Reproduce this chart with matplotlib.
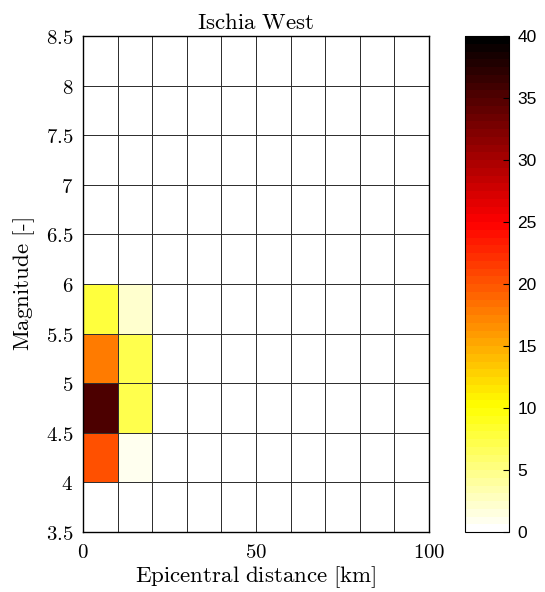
import numpy as np
import matplotlib
matplotlib.use("Agg")
import matplotlib.pyplot as plt
from matplotlib.colors import ListedColormap

plt.rcParams["mathtext.fontset"] = "cm"

# Bin edges
dist_edges = [0, 10, 20, 30, 40, 50, 60, 70, 80, 90, 100]
mag_edges = [3.5, 4.0, 4.5, 5.0, 5.5, 6.0, 6.5, 7.0, 7.5, 8.0, 8.5]

# Event counts per (magnitude bin, distance bin); rows from M 3.5 upwards
counts_0_10 = [0, 20, 35, 18, 8, 0, 0, 0, 0, 0]
counts_10_20 = [0, 1, 7, 7, 2, 0, 0, 0, 0, 0]

x_ticks = [0, 50, 100]
y_ticks = [3.5, 4, 4.5, 5, 5.5, 6, 6.5, 7, 7.5, 8, 8.5]
y_ticklabels = ["3.5", "4", "4.5", "5", "5.5", "6", "6.5", "7", "7.5", "8", "8.5"]
cbar_ticks = [0, 5, 10, 15, 20, 25, 30, 35, 40]

counts = np.zeros((len(mag_edges) - 1, len(dist_edges) - 1))
counts[:, 0] = counts_0_10
counts[:, 1] = counts_10_20


def matlab_hot(n=64):
    x = np.linspace(0, 1, n)
    r = np.clip(x / (3 / 8), 0, 1)
    g = np.clip((x - 3 / 8) / (3 / 8), 0, 1)
    b = np.clip((x - 3 / 4) / (1 / 4), 0, 1)
    return np.column_stack([r, g, b])


cmap = ListedColormap(matlab_hot(64)[::-1])

W, H = 545, 592
fig = plt.figure(figsize=(W / 100, H / 100), dpi=100)
ax = fig.add_axes([83 / W, 1 - 532 / H, (429 - 83) / W, (532 - 36) / H])
cax = fig.add_axes([465 / W, 1 - 532 / H, (509 - 465) / W, (532 - 36) / H])

mesh = ax.pcolormesh(dist_edges, mag_edges, counts, cmap=cmap, vmin=0, vmax=40,
                     edgecolor="#303030", linewidth=0.6)
ax.set_xlim(0, 100)
ax.set_ylim(3.5, 8.5)

ax.set_xticks(x_ticks)
ax.set_xticklabels([f"${t}$" for t in x_ticks])
ax.set_yticks(y_ticks)
ax.set_yticklabels([f"${t}$" for t in y_ticklabels])
ax.tick_params(length=0, labelsize=15, pad=7)
for s in ax.spines.values():
    s.set_linewidth(1.0)

ax.set_title(r"$\mathrm{Ischia\ West}$", fontsize=16.5, pad=5)
ax.set_xlabel(r"$\mathrm{Epicentral\ distance\ [km]}$", fontsize=16.5, labelpad=2)
ax.set_ylabel(r"$\mathrm{Magnitude\ [\text{-}]}$", fontsize=16.5, labelpad=6)

cb = fig.colorbar(mesh, cax=cax, ticks=cbar_ticks)
cb.outline.set_linewidth(0.8)
cax.tick_params(labelsize=12.5, length=4, width=0.8, direction="in", pad=6)
for lbl in cax.get_yticklabels():
    lbl.set_family("Liberation Sans")

fig.savefig("out.png", dpi=100, facecolor="white")
